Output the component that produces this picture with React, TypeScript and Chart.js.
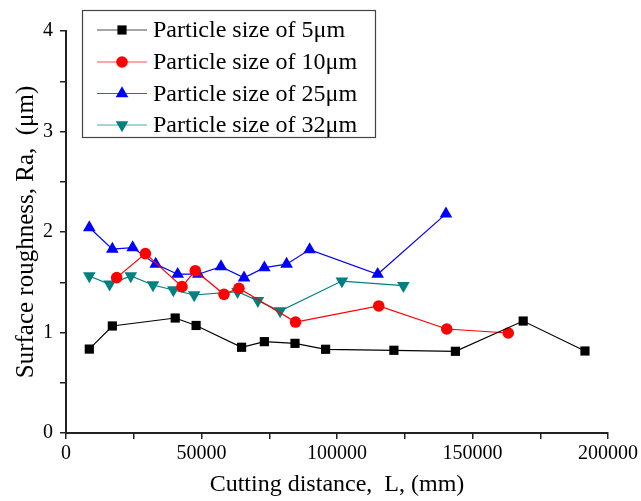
import React, { useEffect, useRef } from "react";
import { Chart, registerables } from "chart.js";

Chart.register(...registerables);

const FONT = "'Liberation Serif', 'Times New Roman', serif";

const labels5 = "Particle size of 5\u03bcm";
const labels10 = "Particle size of 10\u03bcm";
const labels25 = "Particle size of 25\u03bcm";
const labels32 = "Particle size of 32\u03bcm";

const x5 = [8600, 17100, 40300, 48000, 64800, 73200, 84500, 95800, 121000, 143700, 168700, 191500];
const y5 = [0.835, 1.065, 1.144, 1.07, 0.853, 0.909, 0.892, 0.833, 0.823, 0.813, 1.114, 0.816];

const x10 = [18700, 29300, 42800, 47700, 58300, 63800, 84700, 115400, 140500, 163200];
const y10 = [1.546, 1.785, 1.456, 1.615, 1.38, 1.44, 1.104, 1.264, 1.035, 0.995];

const x25 = [8600, 17100, 24600, 33100, 41200, 48800, 57200, 65700, 73200, 81400, 89900, 115000, 140200];
const y25 = [2.045, 1.83, 1.845, 1.68, 1.58, 1.58, 1.655, 1.545, 1.645, 1.68, 1.825, 1.58, 2.18];

const x32 = [8600, 16100, 23900, 32100, 39600, 47300, 63300, 70800, 79000, 101800, 124500];
const y32 = [1.562, 1.48, 1.562, 1.473, 1.423, 1.373, 1.406, 1.316, 1.214, 1.512, 1.466];

const xTickMin = 0;
const xTickMax = 200000;
const yTickMin = 0;
const yTickMax = 4;

const pts = (xs: number[], ys: number[]) => xs.map((x, i) => ({ x, y: ys[i] }));

function drawMarker(ctx: CanvasRenderingContext2D, style: string, rot: number, r: number, x: number, y: number, color: string) {
  ctx.save();
  ctx.fillStyle = color;
  ctx.beginPath();
  if (style === "rect") {
    const s = Math.SQRT1_2 * r;
    ctx.rect(x - s, y - s, 2 * s, 2 * s);
  } else if (style === "circle") {
    ctx.arc(x, y, r, 0, Math.PI * 2);
  } else if (style === "triangle") {
    let a = (rot * Math.PI) / 180;
    ctx.moveTo(x + Math.sin(a) * r, y - Math.cos(a) * r);
    a += (2 * Math.PI) / 3;
    ctx.lineTo(x + Math.sin(a) * r, y - Math.cos(a) * r);
    a += (2 * Math.PI) / 3;
    ctx.lineTo(x + Math.sin(a) * r, y - Math.cos(a) * r);
    ctx.closePath();
  }
  ctx.fill();
  ctx.restore();
}

const legendPlugin = {
  id: "boxLegend",
  afterDraw(chart: any) {
    const ctx: CanvasRenderingContext2D = chart.ctx;
    const bx = 82, by = 10.5, bw = 293, bh = 127;
    ctx.save();
    ctx.fillStyle = "#fff";
    ctx.fillRect(bx, by, bw, bh);
    ctx.strokeStyle = "#444";
    ctx.lineWidth = 1.2;
    ctx.strokeRect(bx + 0.5, by, bw, bh);
    const rows = [30, 62, 93.5, 125];
    chart.data.datasets.forEach((ds: any, i: number) => {
      const y = rows[i];
      ctx.strokeStyle = ds.borderColor;
      ctx.lineWidth = 1;
      ctx.globalAlpha = 0.7;
      ctx.beginPath();
      ctx.moveTo(97, y);
      ctx.lineTo(147, y);
      ctx.stroke();
      ctx.globalAlpha = 1;
      drawMarker(ctx, ds.pointStyle, ds.pointRotation || 0, ds.pointRadius, 122, y, ds.pointBackgroundColor);
      ctx.fillStyle = "#000";
      ctx.font = `24px ${FONT}`;
      ctx.textBaseline = "middle";
      ctx.textAlign = "left";
      ctx.fillText(ds.label, 153, y + 1);
    });
    ctx.restore();
  },
};

export default function App() {
  const ref = useRef<HTMLCanvasElement>(null);
  useEffect(() => {
    if (!ref.current) return;
    const mk = (label: string, xs: number[], ys: number[], color: string, style: string, r: number, rot = 0) => ({
      label,
      data: pts(xs, ys),
      borderColor: color,
      backgroundColor: color,
      pointBackgroundColor: color,
      pointBorderColor: color,
      pointBorderWidth: 0,
      pointStyle: style,
      pointRadius: r,
      pointRotation: rot,
      borderWidth: 1.2,
      showLine: true,
      tension: 0,
    });
    const chart = new Chart(ref.current, {
      type: "line",
      data: {
        datasets: [
          mk(labels5, x5, y5, "#000000", "rect", 6.5),
          mk(labels10, x10, y10, "#ff0000", "circle", 5.8),
          mk(labels25, x25, y25, "#0000ff", "triangle", 7.3),
          mk(labels32, x32, y32, "#008080", "triangle", 7.3, 180),
        ] as any,
      },
      options: {
        animation: false,
        responsive: false,
        devicePixelRatio: 1,
        layout: { padding: { left: 0, right: 33, top: 31, bottom: 0 } },
        plugins: { legend: { display: false }, tooltip: { enabled: false } },
        scales: {
          x: {
            type: "linear",
            min: xTickMin,
            max: xTickMax,
            afterFit: (s: any) => {
              s.height = 68;
            },
            ticks: {
              stepSize: 25000,
              autoSkip: false,
              maxRotation: 0,
              color: "#000",
              padding: 3,
              font: { family: FONT, size: 20 },
              callback: (v: any) => (Number(v) % 50000 === 0 ? String(v) : ""),
            },
            grid: { drawOnChartArea: false, drawTicks: true, tickLength: 6, color: "#222", lineWidth: 1.5 },
            border: { display: true, color: "#222", width: 2 },
            title: {
              display: true,
              text: "Cutting distance,  L, (mm)",
              color: "#000",
              font: { family: FONT, size: 24 },
              padding: { top: 0, bottom: 2 },
            },
          },
          y: {
            type: "linear",
            min: yTickMin,
            max: yTickMax,
            afterFit: (s: any) => {
              s.width = 66;
            },
            ticks: {
              stepSize: 0.5,
              autoSkip: false,
              color: "#000",
              padding: 7,
              font: { family: FONT, size: 20 },
              callback: (v: any) => (Number.isInteger(Number(v)) ? String(v) : ""),
            },
            grid: { drawOnChartArea: false, drawTicks: true, tickLength: 6, color: "#222", lineWidth: 1.5 },
            border: { display: true, color: "#222", width: 2 },
            title: {
              display: true,
              text: "Surface roughness, Ra,  (\u03bcm)",
              color: "#000",
              font: { family: FONT, size: 25 },
              padding: { top: 11, bottom: 0 },
            },
          },
        },
      },
      plugins: [legendPlugin],
    });
    return () => chart.destroy();
  }, []);
  return (
    <div style={{ position: "absolute", left: 0, top: 0, width: 641, height: 501, background: "#fff" }}>
      <canvas ref={ref} width={641} height={501} />
    </div>
  );
}
